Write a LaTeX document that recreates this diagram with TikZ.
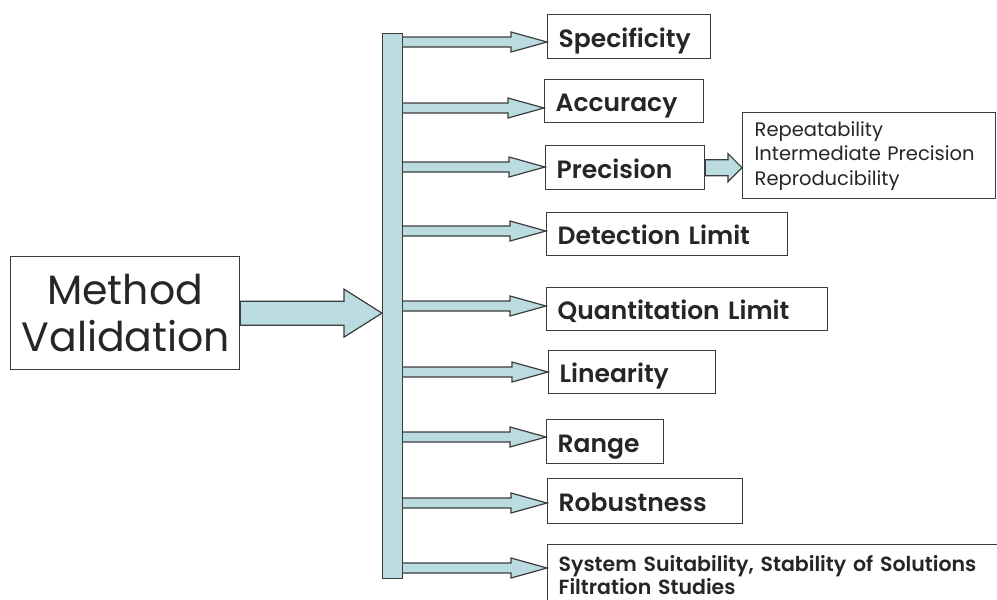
\documentclass[tikz,border=0pt]{standalone}
\usepackage{fontspec}
\setmainfont{Poppins}[BoldFont={Poppins SemiBold}]
\usetikzlibrary{calc}
\definecolor{arrfill}{HTML}{BADCE0}
\definecolor{edge}{HTML}{3C3C3C}
\tikzset{
  box/.style={draw=edge, line width=1.3pt, fill=white, rectangle, anchor=north west,
     inner xsep=11pt, inner ysep=0pt, align=left, text=black!85,
     font=\bfseries\fontsize{25}{28}\selectfont},
  lbl/.style={box, text height=21pt, text depth=0pt},
  arrstyle/.style={draw=edge, line width=1.2pt, fill=arrfill, line join=miter},
}
% #1 start, #2 end, #3 shaft half, #4 head half, #5 head length
\newcommand\blockarr[5]{%
  \draw[arrstyle] let \p1=(#1), \p2=(#2) in
    (\x1,\y1+#3) -- (\x2-#5,\y1+#3) -- (\x2-#5,\y1+#4) -- (\x2,\y1)
    -- (\x2-#5,\y1-#4) -- (\x2-#5,\y1-#3) -- (\x1,\y1-#3) -- cycle;}
\begin{document}
\begin{tikzpicture}[x=1pt,y=-1pt]
\useasboundingbox (0,0) rectangle (997,600);
\clip (0,0) rectangle (997,600);
\fill[white] (0,0) rectangle (997,600);

% boxes
\node[lbl, text width=141pt, minimum height=44pt] (spec) at (547,14) {Specificity};
\node[lbl, text width=137pt, minimum height=43pt] (acc) at (544,79) {Accuracy};
\node[lbl, text width=137pt, minimum height=44pt] (prec) at (545,145) {Precision};
\node[box, text width=229pt, minimum height=86pt, inner xsep=12pt, inner ysep=5pt,
      font=\fontsize{19.5}{24.5}\selectfont] (sub) at (742,112)
      {Repeatability\\Intermediate Precision\\Reproducibility};
\node[lbl, text width=219pt, minimum height=43pt] (det) at (546,212) {Detection Limit};
\node[lbl, text width=259pt, minimum height=43pt] (quant) at (546,287) {Quantitation Limit};
\node[lbl, text width=145pt, minimum height=43pt] (lin) at (548,350) {Linearity};
\node[lbl, text width=95pt, minimum height=44pt] (range) at (546,419) {Range};
\node[lbl, text width=173pt, minimum height=45pt] (rob) at (547,478) {Robustness};
\node[box, text width=470pt, minimum height=61pt,
      font=\bfseries\fontsize{20.5}{23}\selectfont] (last) at (547,544)
      {System Suitability, Stability of Solutions\\Filtration Studies};

\node[box, anchor=north west, text width=207pt, minimum height=113pt, align=center,
      font=\fontsize{41}{47}\selectfont] (mv) at (10,256) {Method\\Validation};

% coordinates for arrows
\coordinate (s1) at (402,42);
\coordinate (s2) at (402,108);
\coordinate (s3) at (402,167);
\coordinate (s4) at (402,231);
\coordinate (s5) at (402,306);
\coordinate (s6) at (402,372);
\coordinate (s7) at (402,437);
\coordinate (s8) at (402,503);
\coordinate (s9) at (402,568);

\blockarr{s1}{spec.west}{5pt}{10pt}{36pt}
\blockarr{s2}{acc.west}{5pt}{10pt}{36pt}
\blockarr{s3}{prec.west}{5pt}{10pt}{36pt}
\blockarr{s4}{det.west}{5pt}{10pt}{36pt}
\blockarr{s5}{quant.west}{5pt}{10pt}{36pt}
\blockarr{s6}{lin.west}{5pt}{10pt}{36pt}
\blockarr{s7}{range.west}{5pt}{10pt}{36pt}
\blockarr{s8}{rob.west}{5pt}{10pt}{36pt}
\blockarr{s9}{last.west}{5pt}{10pt}{36pt}

\blockarr{prec.east}{sub.west}{8pt}{14pt}{14pt}

% vertical bar
\node[draw=edge, line width=1.3pt, fill=arrfill, minimum width=20pt, minimum height=545pt,
      inner sep=0pt, anchor=north west] (bar) at (382,33) {};

\blockarr{mv.east}{bar.west}{12pt}{24pt}{38pt}
\end{tikzpicture}
\end{document}
